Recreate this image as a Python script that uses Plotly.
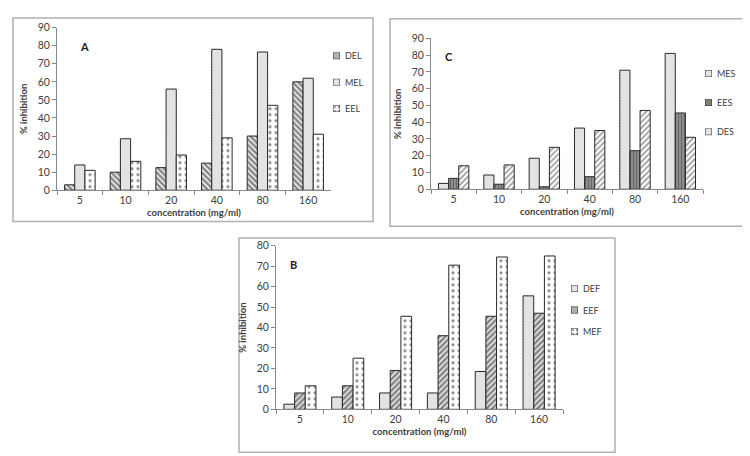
import plotly.graph_objects as go

conc = ["5", "10", "20", "40", "80", "160"]

# Panel A
DEL = [3, 10, 12.5, 15, 30, 60]
MEL = [14, 28.5, 56, 78, 76.5, 62]
EEL = [11, 16, 19.5, 29, 47, 31]
# Panel C
MES = [3.5, 8.5, 18.5, 36.5, 71, 81]
EES = [6.5, 3, 1.5, 7.5, 23, 45.5]
DES = [14, 14.5, 25, 35, 47, 31]
# Panel B
DEF = [2.5, 6, 8, 8, 18.5, 55.5]
EEF = [8, 11.5, 19, 36, 45.5, 47]
MEF = [11.5, 25, 45.5, 70.5, 74.5, 75]

W, H = 750, 456
FONT = "Lato"
TXT = "#404040"
LINE = "#2a2a2a"


def px(x):
    return x / W


def py(y):
    return 1 - y / H


def pat(shape, size, solidity, fg, bg="white"):
    return dict(shape=shape, size=size, solidity=solidity, fgcolor=fg, bgcolor=bg, fillmode="overlay")


styles = {
    "fine": ("x", 2, 0.35, "#6a6a6a", "#f4f4f4"),
    "dots": (".", 6, 0.22, "#111111", "white"),
    "back": ("\\", 4, 0.65, "#111111", "white"),
    "fwd":  ("/", 4, 0.4, "#333333", "white"),
    "fwdd": ("/", 4, 0.7, "#111111", "white"),
    "vert": ("|", 3, 0.35, "#404040", "#8c8c8c"),
}

fig = go.Figure()

panels = [
    # (names, values, styles, xaxis, yaxis, swatch x-left, swatch centers y)
    (["DEL", "MEL", "EEL"], [DEL, MEL, EEL], ["back", "fine", "dots"], "x", "y", 325, [43, 70, 97]),
    (["MES", "EES", "DES"], [MES, EES, DES], ["fine", "vert", "fwd"], "x2", "y2", 697, [61, 91, 121]),
    (["DEF", "EEF", "MEF"], [DEF, EEF, MEF], ["fine", "fwdd", "dots"], "x3", "y3", 563, [282, 304, 326]),
]

layout_extra = {}
annotations = []
sw = 7
axis_n = 4
for names, vals, sts, xa, ya, sx, sys_ in panels:
    for name, v, st in zip(names, vals, sts):
        shp, size, sol, fg, bg = styles[st]
        fig.add_trace(go.Bar(
            x=conc, y=v, name=name, xaxis=xa, yaxis=ya, showlegend=False,
            marker=dict(color="white", pattern=pat(shp, size, sol, fg, bg), line=dict(color=LINE, width=1)),
        ))
    # legend swatches drawn as tiny bars in tiny hidden axes
    for name, st, cy in zip(names, sts, sys_):
        shp, size, sol, fg, bg = styles[st]
        n = axis_n
        axis_n += 1
        fig.add_trace(go.Bar(
            x=[0], y=[1], width=1, xaxis=f"x{n}", yaxis=f"y{n}", showlegend=False, hoverinfo="skip",
            marker=dict(color="white", pattern=pat(shp, max(2, size - 2), sol, fg, bg),
                        line=dict(color=LINE, width=1)),
        ))
        layout_extra[f"xaxis{n}"] = dict(domain=[px(sx), px(sx + sw)], anchor=f"y{n}", range=[-0.5, 0.5],
                                         visible=False, fixedrange=True)
        layout_extra[f"yaxis{n}"] = dict(domain=[py(cy + sw / 2), py(cy - sw / 2)], anchor=f"x{n}",
                                         range=[0, 1], visible=False, fixedrange=True)
        annotations.append(dict(text=name, x=px(sx + sw + 3), y=py(cy), xref="paper", yref="paper",
                                xanchor="left", yanchor="middle", showarrow=False,
                                font=dict(family=FONT, size=9, color=TXT)))


def xaxis(dom, anchor):
    return dict(domain=dom, anchor=anchor, type="category", showline=True, linecolor="#888888",
                ticks="outside", ticklen=4, tickcolor="#888888", tickson="boundaries",
                tickfont=dict(family=FONT, size=10.5, color=TXT),
                title=dict(text="<b>concentration (mg/ml)</b>", font=dict(family=FONT, size=9.5, color=TXT),
                           standoff=4),
                showgrid=False, zeroline=False, fixedrange=True)


def yaxis(dom, anchor, rng, dt):
    return dict(domain=dom, anchor=anchor, range=rng, dtick=dt, showline=True, linecolor="#888888",
                ticks="outside", ticklen=4, tickcolor="#888888",
                tickfont=dict(family=FONT, size=10.5, color=TXT),
                title=dict(text="<b>% inhibition</b>", font=dict(family=FONT, size=9.5, color=TXT), standoff=8),
                showgrid=False, zeroline=False, fixedrange=True)


for lbl, x, y in [("A", 70, 25), ("C", 441, 35), ("B", 285, 257)]:
    annotations.append(dict(text=f"<b>{lbl}</b>", x=px(x), y=py(y), xref="paper", yref="paper", showarrow=False,
                            font=dict(family=FONT, size=11, color="#222222")))

fig.update_layout(
    width=W, height=H, margin=dict(l=0, r=0, t=0, b=0),
    paper_bgcolor="white", plot_bgcolor="white",
    barmode="group", bargap=0.33, bargroupgap=0, showlegend=False,
    xaxis=xaxis([px(49), px(323)], "y"),
    yaxis=yaxis([py(181), py(14)], "x", [0, 90], 10),
    xaxis2=xaxis([px(423), px(695)], "y2"),
    yaxis2=yaxis([py(180), py(25)], "x2", [0, 90], 10),
    xaxis3=xaxis([px(268), px(555)], "y3"),
    yaxis3=yaxis([py(406), py(238)], "x3", [0, 80], 10),
    shapes=[
        dict(type="rect", xref="paper", yref="paper", x0=px(5), x1=px(365), y0=py(213), y1=py(4),
             line=dict(color="#b0b0b0", width=1.5)),
        dict(type="rect", xref="paper", yref="paper", x0=px(382), x1=px(746), y0=py(218), y1=py(5),
             line=dict(color="#b0b0b0", width=1.5)),
        dict(type="rect", xref="paper", yref="paper", x0=px(231), x1=px(607), y0=py(450), y1=py(230),
             line=dict(color="#b0b0b0", width=1.5)),
    ],
    annotations=annotations,
    **layout_extra,
)

fig.write_html("out.html")
